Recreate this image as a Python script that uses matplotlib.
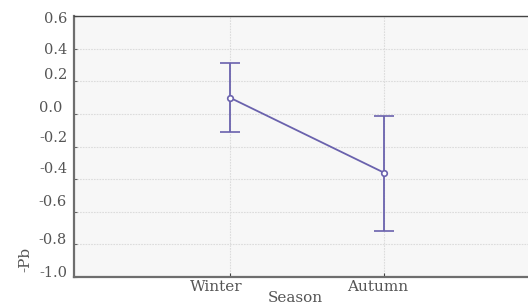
import numpy as np
import matplotlib.pyplot as plt
from matplotlib.transforms import offset_copy

# data
seasons = ['Winter', 'Autumn']
means = [0.10, -0.36]
upper = [0.31, -0.01]
lower = [-0.11, -0.72]

yticks = [0.6, 0.4, 0.2, 0.0, -0.2, -0.4, -0.6, -0.8, -1.0]
ytick_labels = ['0.6', '0.4', '0.2', '0.0', '-0.2', '-0.4', '-0.6', '-0.8', '-1.0']
# the labels in the original sit a bit off their ticks (pixels)
label_dy = [-3, -1, 6, 6, 9, 10, 10, 4, 4]
label_dx = [0, 0, 0, -5, 0, 0, 0, 0, 0]
xlabel_dx = [-13, -6]

line_col = '#6a62ad'
text_col = '#555555'
font = 'DejaVu Serif'

fig = plt.figure(figsize=(5.28, 3.04), dpi=100)
ax = fig.add_axes([74 / 528, 27 / 304, 464 / 528, 261 / 304])
ax.set_facecolor('#f7f7f7')

x = np.arange(len(seasons))
m = np.array(means)
err = [m - np.array(lower), np.array(upper) - m]
ax.errorbar(x, m, yerr=err, color=line_col, lw=1.3, elinewidth=1.3,
            capsize=7, capthick=1.3, marker='o', ms=4, mfc='white',
            mec=line_col, mew=1.2, zorder=3)

ax.set_xlim(-1.01, 2.0)
ax.set_ylim(-1.0, 0.6)
ax.set_xticks(x)
ax.set_xticklabels([])
ax.set_yticks(yticks)
ax.set_yticklabels([])
# tick labels drawn by hand so they can carry the small offsets of the original
for v, lab, dy, dx in zip(yticks, ytick_labels, label_dy, label_dx):
    tr = offset_copy(ax.get_yaxis_transform(), fig=fig, x=dx - 7, y=dy, units='dots')
    ax.text(0, v, lab, transform=tr, ha='right', va='center',
            fontsize=10.5, color=text_col, family=font)
for xi, lab, dx in zip(x, seasons, xlabel_dx):
    tr = offset_copy(ax.get_xaxis_transform(), fig=fig, x=dx, y=-10, units='dots')
    ax.text(xi, 0, lab, transform=tr, ha='center', va='center',
            fontsize=11, color=text_col, family=font)

ax.grid(True, color='#dcdcdc', lw=0.8, ls=(0, (1.5, 1)))
ax.tick_params(axis='y', length=2, color='#666666', direction='in')
ax.tick_params(axis='x', length=3, color='#444444', direction='in')

for s in ['left', 'bottom']:
    ax.spines[s].set_color('#6e6e6e')
    ax.spines[s].set_linewidth(1.6)
ax.spines['top'].set_color('#444444')
ax.spines['top'].set_linewidth(1.0)
ax.spines['right'].set_visible(False)

fig.text(295 / 528, 1 - 298 / 304, 'Season', ha='center', va='center',
         fontsize=11, color=text_col, family=font)
fig.text(25 / 528, 1 - 259 / 304, '-Pb', ha='center', va='center', rotation=90,
         fontsize=11, color=text_col, family=font)

fig.savefig('out.png', dpi=100)
